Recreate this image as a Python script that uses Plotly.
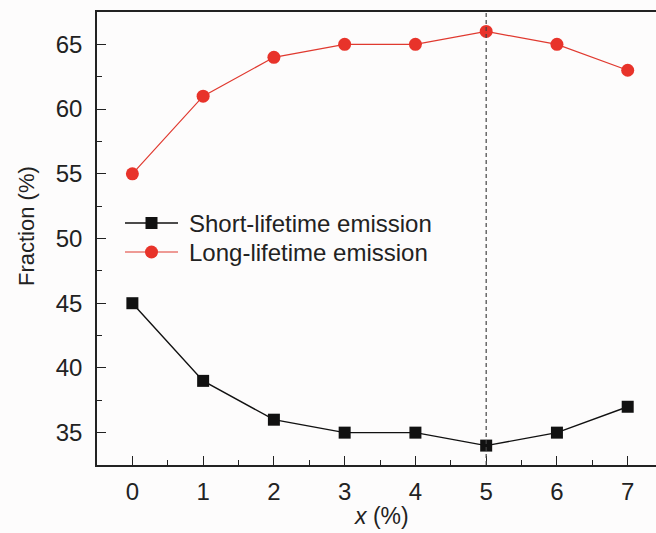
import plotly.graph_objects as go

x_vals = [0, 1, 2, 3, 4, 5, 6, 7]
short_vals = [45, 39, 36, 35, 35, 34, 35, 37]
long_vals = [55, 61, 64, 65, 65, 66, 65, 63]
short_name = "Short-lifetime emission"
long_name = "Long-lifetime emission"
marker_line_x = 5

FONT = "Liberation Sans, Arial, sans-serif"
INK = "#222222"
BLACK = "#111111"
RED_LINE = "#e0392f"
RED_MK = "#e8332a"

# plot area in pixels
L, R, T, B = 97, 656, 12, 465
W, H = R - L, B - T


def px(xp):
    return (xp - L) / W


def py(yp):
    return (B - yp) / H


fig = go.Figure()
fig.add_trace(go.Scatter(
    x=x_vals, y=short_vals, mode="lines+markers", name=short_name,
    line=dict(color=BLACK, width=1.4),
    marker=dict(symbol="square", size=12, color=BLACK),
    showlegend=False,
))
fig.add_trace(go.Scatter(
    x=x_vals, y=long_vals, mode="lines+markers", name=long_name,
    line=dict(color=RED_LINE, width=1.2),
    marker=dict(symbol="circle", size=13, color=RED_MK),
    showlegend=False,
))

fig.add_shape(type="line", x0=marker_line_x, x1=marker_line_x, xref="x",
              y0=0, y1=1, yref="y domain",
              line=dict(color="#444444", width=1.2, dash="4px,3px"))

# legend (drawn manually to match the long sample lines)
legend_rows = [
    (short_name, BLACK, 1.4, "rect", 223),
    (long_name, RED_LINE, 1.2, "circle", 252),
]
for name, col, lw, shp, yrow in legend_rows:
    fig.add_shape(type="line", xref="paper", yref="paper",
                  x0=px(125), x1=px(178), y0=py(yrow), y1=py(yrow),
                  line=dict(color=col, width=lw))
    half = 6 if shp == "rect" else 6.5
    fig.add_shape(type=shp, xref="paper", yref="paper",
                  xsizemode="pixel", ysizemode="pixel",
                  xanchor=px(151.5), yanchor=py(yrow),
                  x0=-half, x1=half, y0=-half, y1=half,
                  fillcolor=BLACK if shp == "rect" else RED_MK,
                  line=dict(width=0))
    fig.add_annotation(text=name, xref="paper", yref="paper",
                       x=px(187), y=py(yrow), xanchor="left", yanchor="middle",
                       showarrow=False, font=dict(size=24, color=INK))

# axis titles
fig.add_annotation(text="Fraction (%)", xref="paper", yref="paper",
                   x=px(26), y=py(226), xanchor="center", yanchor="middle",
                   textangle=-90, showarrow=False, font=dict(size=22, color=INK))
fig.add_annotation(text="<i>x</i> (%)", xref="paper", yref="paper",
                   x=px(381), y=py(516), xanchor="center", yanchor="middle",
                   showarrow=False, font=dict(size=23, color=INK))

fig.update_layout(
    width=656, height=533,
    margin=dict(l=L, r=656 - R, t=T, b=533 - B),
    paper_bgcolor="#fdfcfc", plot_bgcolor="#fdfcfc",
    font=dict(family=FONT, size=24, color=INK),
    showlegend=False,
)
fig.update_xaxes(
    range=[-0.5, 7.4], tickvals=x_vals, ticks="inside", ticklen=9, tickwidth=1.2,
    tickcolor=INK, showline=True, linecolor=INK, linewidth=1.5,
    mirror=True, showgrid=False, zeroline=False,
    tickfont=dict(size=24, color=INK), ticklabelstandoff=4,
    minor=dict(dtick=0.5, tick0=0.5, ticks="inside", ticklen=5, tickcolor=INK),
)
fig.update_yaxes(
    range=[32.5, 67.5], tickvals=[35, 40, 45, 50, 55, 60, 65], ticks="inside",
    ticklen=9, tickwidth=1.2, tickcolor=INK, showline=True,
    linecolor=INK, linewidth=1.5, showgrid=False, zeroline=False,
    tickfont=dict(size=24, color=INK), ticklabelstandoff=8,
    minor=dict(dtick=2.5, tick0=32.5, ticks="inside", ticklen=5, tickcolor=INK),
)

fig.write_html("out.html")
